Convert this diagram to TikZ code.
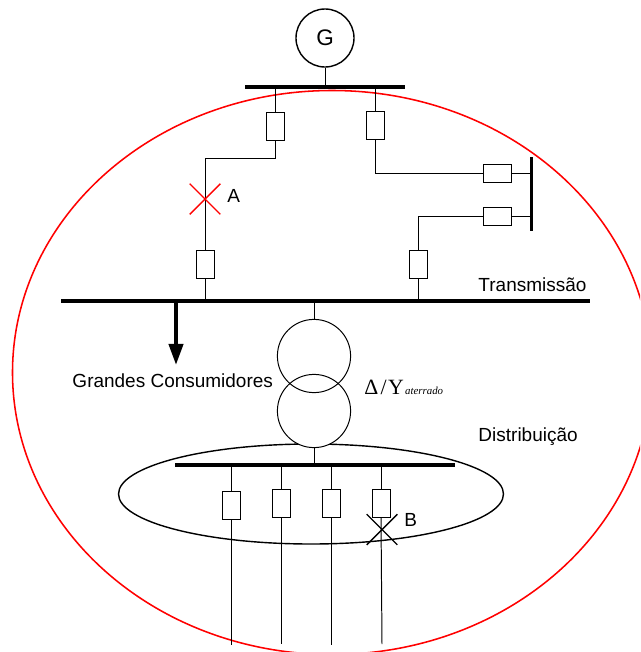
\documentclass[tikz,border=0pt]{standalone}
\usepackage{fontspec}
\setmainfont{Liberation Sans}
\newfontfamily\timesfont{Liberation Serif}
\usetikzlibrary{arrows.meta,shapes.misc}
\tikzset{
  breaker/.style={draw,fill=white,inner sep=0pt,minimum width=.45cm,minimum height=.7cm,line width=.7pt},
  breakerh/.style={breaker,minimum width=.7cm,minimum height=.45cm},
  winding/.style={draw,circle,inner sep=0pt,minimum size=1.83cm,line width=.7pt},
  fault/.style={draw,cross out,inner sep=0pt,minimum size=.73cm,line width=1pt},
  busbar/.style={line width=2.6pt},
  lbl/.style={inner sep=0pt,anchor=base west,font=\fontsize{13.5}{16}\selectfont}
}
\begin{document}
\begin{tikzpicture}[x=.025cm,y=-.025cm,line width=.7pt]
  \clip (0,0) rectangle (640,652);
  % regions
  \draw[red,line width=1.1pt] (332,372.5) ellipse [x radius=319.5,y radius=282];
  \draw[line width=1pt] (311,494) ellipse [x radius=192.5,y radius=50];
  % buses
  \coordinate (gl) at (245,87);
  \coordinate (gr) at (405,87);
  \coordinate (ml) at (61,301);
  \coordinate (mr) at (590,301);
  \coordinate (dl) at (175,465);
  \coordinate (dr) at (455,465);
  \coordinate (vt) at (531.5,157);
  \coordinate (vb) at (531.5,231);
  \draw[busbar] (gl) -- (gr);
  \draw[busbar] (ml) -- (mr);
  \draw[busbar] (dl) -- (dr);
  \draw[busbar] (vt) -- (vb);
  % generator
  \node[draw,circle,inner sep=0pt,minimum size=1.45cm,line width=1pt,font=\fontsize{16}{18}\selectfont] (gen) at (325,38) {G};
  \draw (gen) -- (325,87);
  % transformer
  \node[winding,fill=white] (tlow) at (314,411) {};
  \node[winding] (thigh) at (314,356) {};
  \draw (314,301) -- (thigh);
  \draw (tlow) -- (314,465);
  % breakers
  \node[breaker] (b1) at (275,126.5) {};
  \node[breaker] (b2) at (375,125) {};
  \node[breakerh] (b3) at (497.5,173) {};
  \node[breakerh] (b4) at (497.5,216) {};
  \node[breaker] (b5) at (205,264) {};
  \node[breaker] (b6) at (418,264) {};
  \node[breaker] (d1) at (231,505) {};
  \node[breaker] (d2) at (281,503) {};
  \node[breaker] (d3) at (331,503.5) {};
  \node[breaker] (d4) at (381,503) {};
  % transmission lines
  \draw (b1.north) -- (275,87);
  \draw (b2.north) -- (375,87);
  \draw (b1.south) |- (205,158.5) -- (b5.north);
  \draw (b5.south) -- (205,301);
  \draw (b2.south) |- (b3.west);
  \draw (b3.east) -- (531.5,173);
  \draw (b6.north) |- (b4.west);
  \draw (b4.east) -- (531.5,216);
  \draw (b6.south) -- (418,301);
  % load arrow
  \draw[-{Triangle[length=15pt,width=10pt]},line width=2.8pt] (176,301) -- (176,365);
  % feeders
  \draw (d1.north) -- (231,465);
  \draw (d2.north) -- (281,465);
  \draw (d3.north) -- (331,465);
  \draw (d4.north) -- (381,465);
  \coordinate (e1) at (231,645);
  \coordinate (e2) at (281,644);
  \coordinate (e3) at (331,645);
  \coordinate (e4) at (382,644);
  \draw (d1.south) -- (e1);
  \draw (d2.south) -- (e2);
  \draw (d3.south) -- (e3);
  \draw (d4.south) -- (e4);
  % faults
  \node[fault,draw=red] (fa) at (205,199) {};
  \node[fault] (fb) at (382,529.5) {};
  % labels
  \node[lbl] (la) at (227,202.5) {A};
  \node[lbl] (lb) at (404,526.5) {B};
  \node[lbl] (ltr) at (478,291) {Transmissão};
  \node[lbl] (ldi) at (478,441) {Distribuição};
  \node[lbl] (lgc) at (72,387) {Grandes Consumidores};
  \node[lbl,font=\timesfont\fontsize{15.5}{18}\selectfont] (lcon) at (364,394) {Δ\kern1.5pt/\kern1pt Y\kern1pt{\fontsize{7.7}{9}\selectfont\itshape aterrado}};
\end{tikzpicture}
\end{document}
